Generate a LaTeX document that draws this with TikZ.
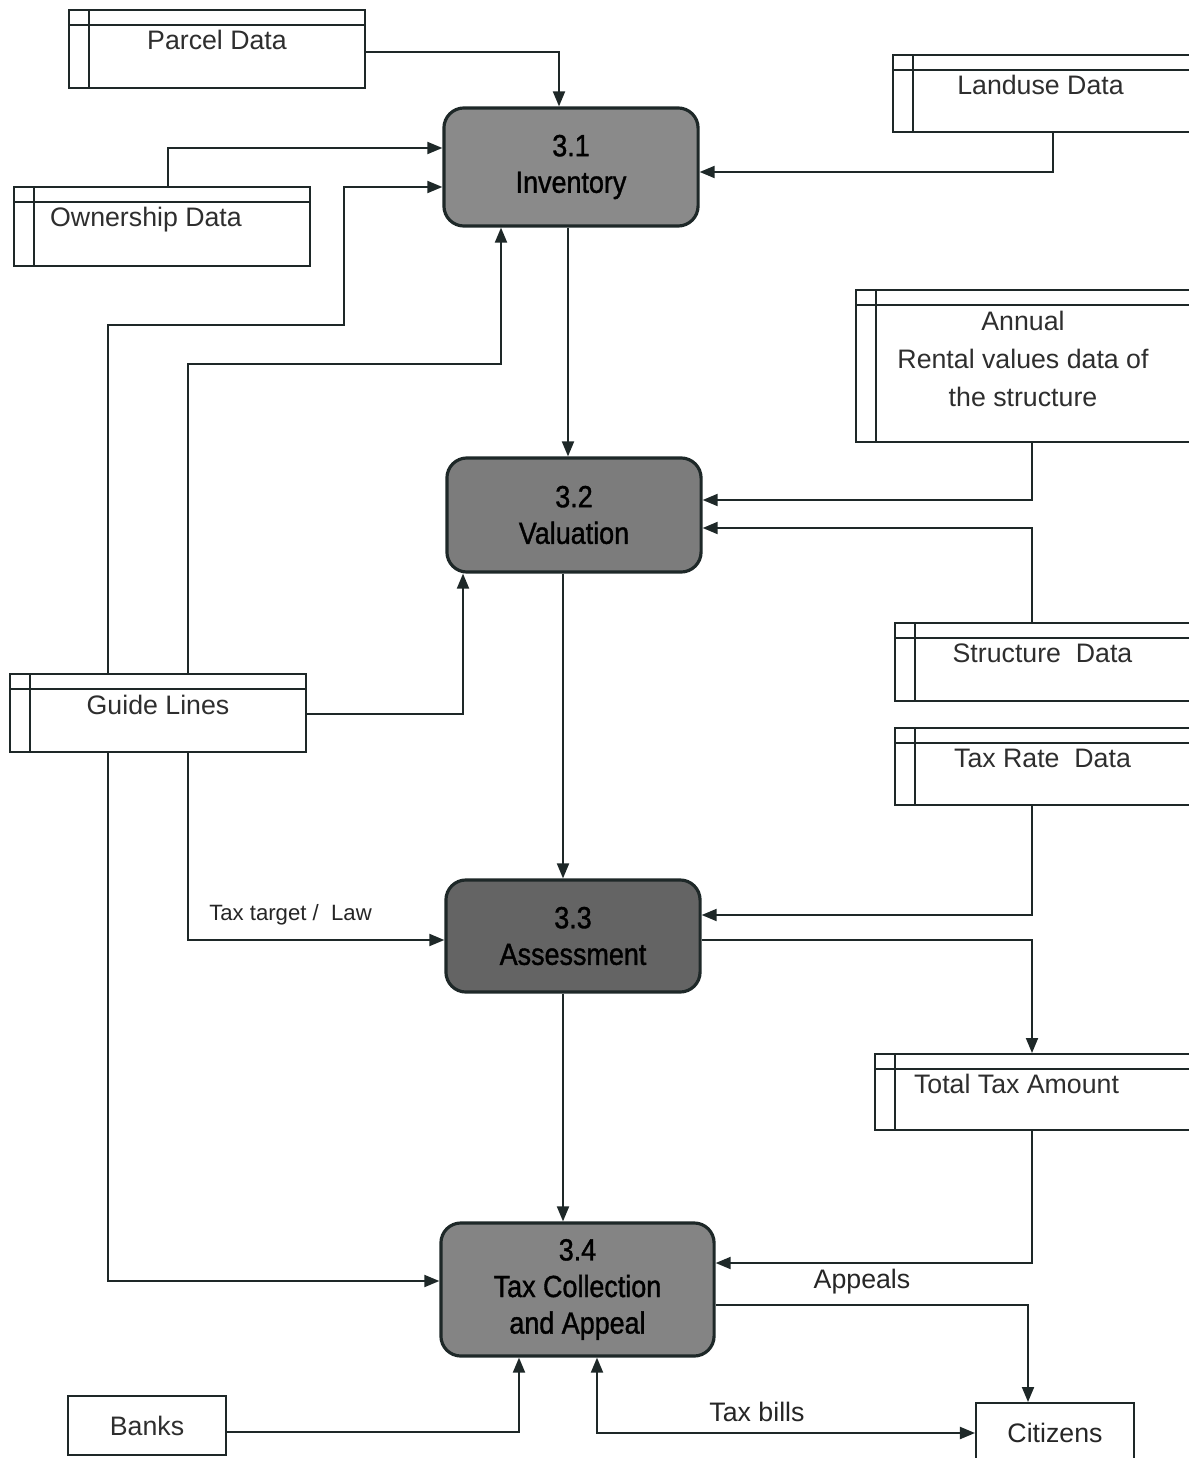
\documentclass[tikz,border=0pt]{standalone}
\usepackage{fontspec}
\setmainfont{Liberation Sans}
\newfontfamily\procfont{Liberation Sans}[FakeStretch=0.88,FakeBold=1.2]
\usetikzlibrary{calc,arrows.meta}

\definecolor{ink}{HTML}{1E2828}
\definecolor{procA}{HTML}{8A8A8A}
\definecolor{procB}{HTML}{7C7C7C}
\definecolor{procC}{HTML}{646464}
\definecolor{procD}{HTML}{848484}

\begin{document}
\begin{tikzpicture}[x=0.01cm,y=-0.01cm,
  inkline/.style={draw=ink, line width=0.55pt},
  flow/.style={inkline, -{Triangle[length=0.15cm,width=0.12cm]}},
  twoway/.style={inkline, {Triangle[length=0.15cm,width=0.12cm]}-{Triangle[length=0.15cm,width=0.12cm]}},
  store/.style={draw=ink, line width=0.55pt, rectangle, inner sep=0pt,
    path picture={
      \draw[ink, line width=0.55pt]
        ([yshift=-0.15cm]path picture bounding box.north west) --
        ([yshift=-0.15cm]path picture bounding box.north east);
      \draw[ink, line width=0.55pt]
        ([xshift=0.2cm]path picture bounding box.north west) --
        ([xshift=0.2cm]path picture bounding box.south west);}},
  storetext/.style={font=\fontsize{7.6}{10.8}\selectfont, text=black!82, align=center, inner sep=0pt},
  process/.style={draw=ink, line width=0.9pt, rounded corners=0.2cm, inner sep=0pt,
    font=\procfont\fontsize{8.7}{10.4}\selectfont, align=center, text=black},
  entity/.style={draw=ink, line width=0.55pt, rectangle, inner sep=0pt,
    font=\fontsize{7.6}{9}\selectfont, text=black!82},
  flowlabel/.style={font=\fontsize{7.6}{9}\selectfont, text=black!85, inner sep=0pt},
  smalllabel/.style={font=\fontsize{6.3}{8}\selectfont, text=black!85, inner sep=0pt}]

\useasboundingbox (0,0) rectangle (1189,1458);
\clip (0,0) rectangle (1189,1458);
\fill[white] (0,0) rectangle (1189,1458);

% data stores
\node[store, minimum width=2.96cm, minimum height=0.78cm] (parcel) at (217,49) {};
\node[storetext, anchor=base] (parcelT) at ($(parcel.north)+(0,40)$) {Parcel Data};

\node[store, minimum width=3.07cm, minimum height=0.77cm] (landuse) at (1046.5,93.5) {};
\node[storetext, anchor=base] (landuseT) at ($(landuse.north)+(-6,40)$) {Landuse Data};

\node[store, minimum width=2.96cm, minimum height=0.79cm] (owner) at (162,226.5) {};
\node[storetext, anchor=base] (ownerT) at ($(owner.north)+(-16,40)$) {Ownership Data};

\node[store, minimum width=3.44cm, minimum height=1.52cm] (annual) at (1028,366) {};
\node[storetext, anchor=north] (annualT) at ($(annual.north)+(-5,21)$) {Annual\\Rental values data of\\the structure};

\node[store, minimum width=3.05cm, minimum height=0.78cm] (structure) at (1047.5,662) {};
\node[storetext, anchor=base] (structureT) at ($(structure.north)+(-5,40)$) {Structure\ \ Data};

\node[store, minimum width=3.05cm, minimum height=0.77cm] (taxrate) at (1047.5,766.5) {};
\node[storetext, anchor=base] (taxrateT) at ($(taxrate.north)+(-5,40)$) {Tax Rate\ \ Data};

\node[store, minimum width=2.96cm, minimum height=0.78cm] (guide) at (158,713) {};
\node[storetext, anchor=base] (guideT) at ($(guide.north)+(0,41)$) {Guide Lines};

\node[store, minimum width=3.25cm, minimum height=0.76cm] (total) at (1037.5,1092) {};
\node[storetext, anchor=base] (totalT) at ($(total.north)+(-21,40)$) {Total Tax Amount};

% external entities
\node[entity, minimum width=1.58cm, minimum height=0.59cm] (banks) at (147,1425.5) {Banks};
\node[entity, minimum width=1.58cm, minimum height=0.67cm] (citizens) at (1055,1436.5) {};
\node[flowlabel, anchor=base] (citizensT) at ($(citizens.north)+(0,40)$) {Citizens};

% processes
\node[process, fill=procA, minimum width=2.54cm, minimum height=1.18cm] (p31) at (571,167) {3.1\\Inventory};
\node[process, fill=procB, minimum width=2.54cm, minimum height=1.14cm] (p32) at (574,515) {3.2\\Valuation};
\node[process, fill=procC, minimum width=2.54cm, minimum height=1.12cm] (p33) at (573,936) {3.3\\Assessment};
\node[process, fill=procD, minimum width=2.73cm, minimum height=1.33cm] (p34) at (577.5,1289.5) {3.4\\Tax Collection\\and Appeal};

% flows into 3.1
\draw[flow] ($(parcel.east)+(0,3)$) -| ($(p31.north)+(-12,0)$);
\draw[flow] ($(owner.north)+(6,0)$) |- ($(p31.west)+(0,-19)$);
\draw[flow] ($(guide.north)+(-50,0)$) |- (344,325) |- ($(p31.west)+(0,20)$);
\draw[flow] ($(guide.north)+(30,0)$) |- (501,364) -- ($(p31.south)+(-70,0)$);
\draw[flow] ($(landuse.south)+(6.5,0)$) |- ($(p31.east)+(0,5)$);

% flows into 3.2
\draw[flow] ($(p31.south)+(-3,0)$) -- ($(p32.north)+(-6,0)$);
\draw[flow] ($(annual.south)+(4,0)$) |- ($(p32.east)+(0,-15)$);
\draw[flow] ($(structure.north)+(-15.5,0)$) |- ($(p32.east)+(0,13)$);
\draw[flow] ($(guide.east)+(0,1)$) -| ($(p32.south)+(-111,0)$);

% flows into and out of 3.3
\draw[flow] ($(p32.south)+(-11,0)$) -- ($(p33.north)+(-10,0)$);
\draw[flow] ($(guide.south)+(30,0)$) |- ($(p33.west)+(0,4)$)
  node[smalllabel, pos=0.7, yshift=0.25cm] (lawL) {Tax target /\ \ Law};
\draw[flow] ($(taxrate.south)+(-15.5,0)$) |- ($(p33.east)+(0,-21)$);
\draw[flow] ($(p33.east)+(0,4)$) -| ($(total.north)+(-5.5,0)$);

% flows into and out of 3.4
\draw[flow] ($(p33.south)+(-10,0)$) -- ($(p34.north)+(-14.5,0)$);
\draw[flow] ($(guide.south)+(-50,0)$) |- ($(p34.west)+(0,-8.5)$);
\draw[flow] ($(total.south)+(-5.5,0)$) |- ($(p34.east)+(0,-26.5)$);
\draw[flow] ($(p34.east)+(0,15.5)$) -| ($(citizens.north)+(-27,0)$);
\node[flowlabel] (appealsL) at (862,1282) {Appeals};
\draw[flow] ($(banks.east)+(0,6.5)$) -| ($(p34.south)+(-58.5,0)$);
\draw[twoway] ($(p34.south)+(19.5,0)$) |- ($(citizens.west)+(0,-3.5)$);
\node[flowlabel] (billsL) at (757,1412) {Tax bills};

\end{tikzpicture}
\end{document}
